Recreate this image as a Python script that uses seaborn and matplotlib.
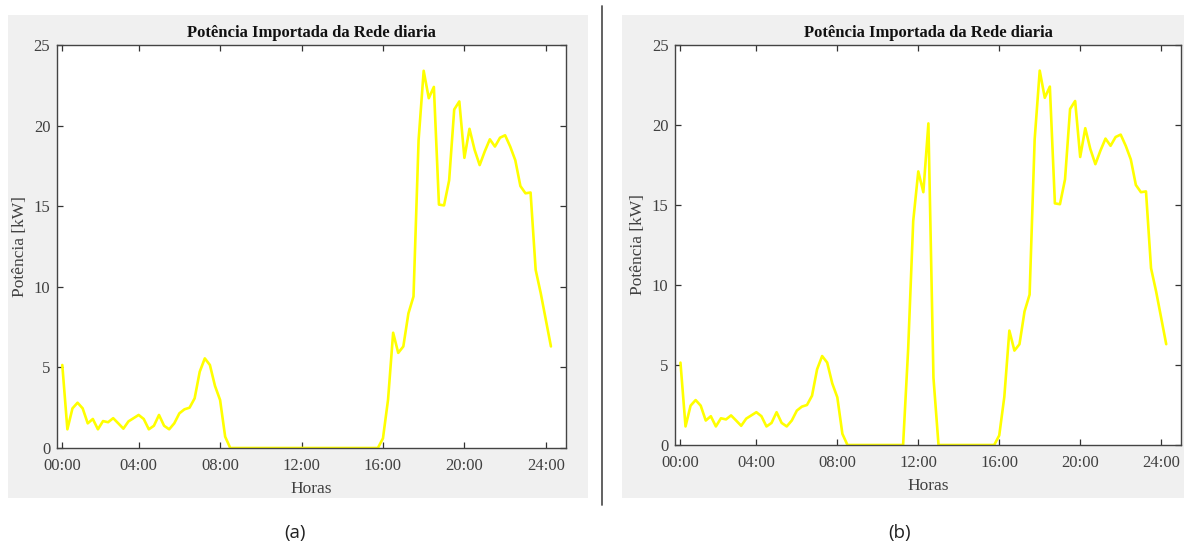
import numpy as np
import pandas as pd
import matplotlib
matplotlib.use("Agg")
import matplotlib.pyplot as plt
from matplotlib.patches import Rectangle
from matplotlib.lines import Line2D
import seaborn as sns

# amostras de 15 min (indice 1..97)
amostra = list(range(1, 98))

potencia_a = [
    5.15, 1.16, 2.46, 2.81, 2.46, 1.53, 1.80, 1.16, 1.67, 1.60,
    1.85, 1.53, 1.20, 1.65, 1.85, 2.05, 1.80, 1.16, 1.38, 2.05,
    1.38, 1.16, 1.53, 2.15, 2.40, 2.50, 3.08, 4.73, 5.56, 5.15,
    3.85, 2.98, 0.70, 0.0, 0.0, 0.0, 0.0, 0.0, 0.0, 0.0,
    0.0, 0.0, 0.0, 0.0, 0.0, 0.0, 0.0, 0.0, 0.0, 0.0,
    0.0, 0.0, 0.0, 0.0, 0.0, 0.0, 0.0, 0.0, 0.0, 0.0,
    0.0, 0.0, 0.0, 0.60, 3.00, 7.15, 5.90, 6.30, 8.35, 9.40,
    19.10, 23.40, 21.70, 22.40, 15.10, 15.05, 16.60, 21.00, 21.50, 18.00,
    19.80, 18.50, 17.55, 18.40, 19.15, 18.70, 19.25, 19.40, 18.70, 17.85,
    16.25, 15.80, 15.85, 11.05, 9.60, 7.95, 6.30,
]

# cenario (b): pico ao meio-dia, amostras 45..52
pico_meio_dia = [0.0, 6.0, 14.0, 17.1, 15.8, 20.1, 4.2, 0.0]
potencia_b = potencia_a[:44] + pico_meio_dia + potencia_a[52:]

tick_pos = [1, 16, 32, 48, 64, 80, 96]
tick_labels = ["00:00", "04:00", "08:00", "12:00", "16:00", "20:00", "24:00"]
y_ticks = [0, 5, 10, 15, 20, 25]

titulo = "Potência Importada da Rede diaria"
rotulos = ["(a)", "(b)"]

W, H = 1184, 551

sns.set_style("ticks")
plt.rcParams["font.family"] = ["Liberation Serif", "DejaVu Serif"]

fig = plt.figure(figsize=(W / 100, H / 100), dpi=100)
fig.patch.set_facecolor("white")


def box(x0, y0, x1, y1):
    """pixel box (top-left origin) -> figure fraction [l, b, w, h]"""
    return [x0 / W, 1 - y1 / H, (x1 - x0) / W, (y1 - y0) / H]


# fundos cinza estilo MATLAB
for x0, x1 in [(8, 588), (622, 1184)]:
    l, b, w, h = box(x0, 15, x1, 498)
    fig.patches.append(Rectangle((l, b), w, h, transform=fig.transFigure,
                                 facecolor="#f0f0f0", edgecolor="none", zorder=-5))

# divisoria
fig.lines.append(Line2D([602 / W, 602 / W], [1 - 6 / H, 1 - 505 / H],
                        transform=fig.transFigure, color="#555555", lw=1.3,
                        zorder=-5))

panels = [
    (box(57.2, 45, 566.2, 448), potencia_a, 295),
    (box(675.4, 45, 1181.4, 445), potencia_b, 900),
]

for i, (rect, valores, lx) in enumerate(panels):
    ax = fig.add_axes(rect)
    ax.set_facecolor("white")
    df = pd.DataFrame({"amostra": amostra, "potencia": valores})
    sns.lineplot(data=df, x="amostra", y="potencia", ax=ax,
                 color="#ffff00", linewidth=1.9)
    ax.set_xlim(0, 100)
    ax.set_ylim(0, 25)
    ax.set_xticks(tick_pos)
    ax.set_xticklabels(tick_labels)
    ax.set_yticks(y_ticks)
    ax.tick_params(direction="in", top=True, right=True, length=4, width=0.9,
                   color="#333333", labelcolor="#404040", labelsize=12)
    ax.tick_params(axis="x", pad=7)
    ax.tick_params(axis="y", pad=5)
    for s in ax.spines.values():
        s.set_color("#444444")
        s.set_linewidth(1.0)
    ax.set_title(titulo, fontsize=12, fontweight="bold", color="#111111", pad=6)
    ax.set_xlabel("Horas", fontsize=12.5, color="#404040", labelpad=5)
    ax.set_ylabel("Potência [kW]", fontsize=12.5, color="#404040", labelpad=4)

    fig.text(lx / W, 1 - 533 / H, rotulos[i], ha="center", va="center",
             fontsize=13.5, family=["Open Sans", "DejaVu Sans"], color="#222222")

fig.savefig("out.png", dpi=100)
